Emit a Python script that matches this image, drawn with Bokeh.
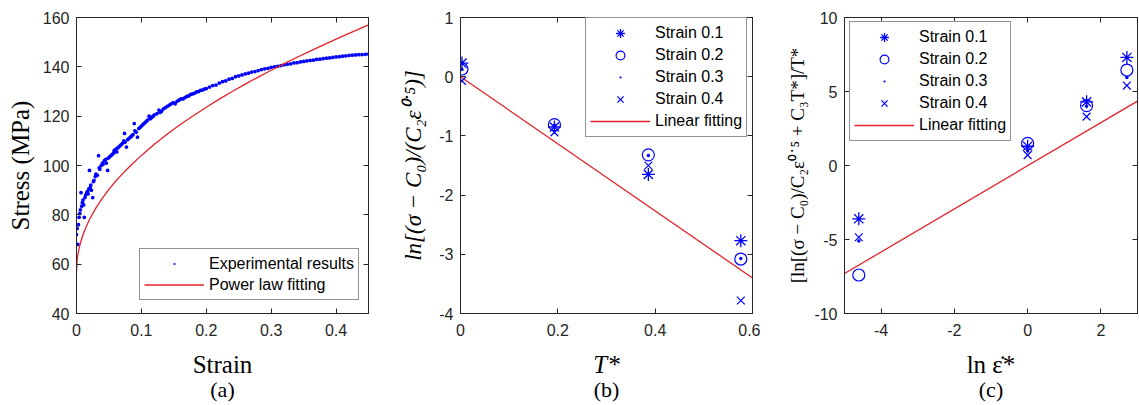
from bokeh.plotting import figure
from bokeh.layouts import row
from bokeh.models import (Range1d, LinearAxis, FixedTicker, Legend, LegendItem,
                          Title, CustomJSTickFormatter, PrintfTickFormatter)
from bokeh.embed import file_html
from bokeh.resources import INLINE

# ---------------- (a) stress-strain curve ----------------
exp_strain = [0.000, 0.001, 0.002, 0.003, 0.004, 0.005, 0.006, 0.007, 0.008, 0.009,
              0.010, 0.011, 0.012, 0.013, 0.014, 0.016, 0.017, 0.018, 0.019, 0.020,
              0.021, 0.022, 0.023, 0.025, 0.026, 0.027, 0.029, 0.030, 0.032, 0.034,
              0.035, 0.036, 0.038, 0.040, 0.041, 0.043, 0.045, 0.046, 0.048, 0.049,
              0.051, 0.053, 0.055, 0.057, 0.058, 0.060, 0.062, 0.063, 0.065, 0.067,
              0.069, 0.071, 0.073, 0.074, 0.075, 0.077, 0.079, 0.081, 0.083, 0.085,
              0.087, 0.089, 0.090, 0.092, 0.094, 0.096, 0.098, 0.100, 0.102, 0.104,
              0.106, 0.108, 0.110, 0.112, 0.114, 0.116, 0.118, 0.120, 0.124, 0.127,
              0.129, 0.131, 0.134, 0.137, 0.140, 0.143, 0.146, 0.149, 0.152, 0.155,
              0.158, 0.161, 0.164, 0.167, 0.170, 0.173, 0.176, 0.179, 0.182, 0.185,
              0.188, 0.191, 0.194, 0.197, 0.200, 0.205, 0.210, 0.215, 0.220, 0.225,
              0.230, 0.235, 0.240, 0.245, 0.250, 0.255, 0.260, 0.265, 0.270, 0.275,
              0.280, 0.285, 0.290, 0.295, 0.300, 0.305, 0.310, 0.315, 0.320, 0.325,
              0.330, 0.335, 0.340, 0.345, 0.350, 0.355, 0.360, 0.365, 0.370, 0.375,
              0.380, 0.385, 0.390, 0.395, 0.400, 0.405, 0.410, 0.415, 0.420, 0.425,
              0.430, 0.435, 0.440, 0.445, 0.450]
exp_stress = [72.0, 74.5, 68.0, 76.0, 79.0, 80.5, 82.0, 89.0, 83.5, 85.0,
              86.0, 84.0, 79.0, 87.0, 88.0, 89.0, 89.5, 88.5, 90.5, 98.0,
              91.0, 92.0, 90.0, 87.0, 93.5, 94.0, 95.5, 96.5, 96.0, 104.0,
              99.0, 98.5, 100.0, 101.0, 100.5, 102.0, 102.5, 101.0, 98.0, 103.0,
              103.5, 104.0, 104.5, 105.0, 106.0, 106.5, 105.5, 107.0, 107.5, 108.0,
              108.5, 109.0, 110.0, 113.0, 109.5, 107.5, 110.5, 111.0, 111.5, 112.0,
              112.5, 117.0, 114.0, 113.5, 111.5, 115.0, 115.5, 116.0, 116.5, 117.0,
              117.5, 118.0, 118.5, 120.0, 119.0, 119.5, 120.0, 120.5, 121.0, 122.5,
              121.5, 122.0, 123.0, 123.5, 124.0, 124.5, 125.0, 125.5, 125.0, 126.0,
              126.5, 127.0, 127.0, 127.5, 128.0, 128.2, 128.8, 129.0, 129.3, 129.8,
              130.0, 130.5, 130.6, 131.0, 131.2, 131.8, 132.4, 132.6, 133.4, 134.0,
              134.3, 135.0, 135.3, 136.0, 136.3, 136.7, 137.1, 137.4, 137.9, 138.1,
              138.5, 138.9, 139.2, 139.4, 139.8, 140.0, 140.2, 140.5, 140.8, 141.0,
              141.2, 141.6, 141.7, 142.0, 142.2, 142.4, 142.6, 142.7, 143.0, 143.1,
              143.3, 143.5, 143.6, 143.8, 144.0, 144.1, 144.3, 144.4, 144.6, 144.7,
              144.8, 144.9, 145.0, 145.1, 145.2]
fit_strain = [0.0, 0.001, 0.002, 0.004, 0.006, 0.008, 0.01, 0.015, 0.02, 0.03, 0.04,
              0.05, 0.06, 0.07, 0.08, 0.10, 0.12, 0.14, 0.16, 0.18, 0.20, 0.22,
              0.24, 0.26, 0.28, 0.30, 0.32, 0.34, 0.36, 0.38, 0.40, 0.42, 0.45]
fit_stress = [57.0, 61.7, 63.7, 66.4, 68.5, 70.3, 71.9, 75.2, 78.1, 82.8, 86.8,
              90.3, 93.5, 96.4, 99.1, 104.1, 108.6, 112.8, 116.6, 120.2, 123.6, 126.9,
              130.0, 133.0, 135.8, 138.6, 141.3, 143.9, 146.4, 148.8, 151.2, 153.6, 157.0]

# ---------------- (b) temperature term ----------------
t_star = [0.003, 0.193, 0.386, 0.576]
b_strain_01 = [0.23, -0.85, -1.65, -2.77]
b_strain_02 = [0.13, -0.81, -1.32, -3.08]
b_strain_03 = [0.12, -0.82, -1.33, -3.07]
b_strain_04 = [-0.07, -0.94, -1.50, -3.78]
b_fit_x = [0.0, 0.6]
b_fit_y = [0.0, -3.4]

# ---------------- (c) strain-rate term ----------------
ln_rate = [-4.61, 0.0, 1.61, 2.71]
c_strain_01 = [-3.6, 1.3, 4.3, 7.3]
c_strain_02 = [-7.4, 1.5, 4.05, 6.45]
c_strain_03 = [-5.1, 1.0, 4.0, 5.95]
c_strain_04 = [-4.85, 0.7, 3.3, 5.4]
c_fit_x = [-5.0, 3.0]
c_fit_y = [-7.3, 4.35]

strain_labels = ["Strain 0.1", "Strain 0.2", "Strain 0.3", "Strain 0.4"]

BLUE = "#0000ff"
RED = "#e4222a"
AX = "#262626"
SANS = "Liberation Sans"
SERIF = "Liberation Serif"
H = 405


def empty_fmt():
    return CustomJSTickFormatter(code="return ''")


def make_panel(width, xr, yr, xticks, yticks, left, right, xlabel, ylabel,
               caption, ylabel_size="25px", ylabel_style="normal",
               xlabel_style="normal", ylabel_standoff=6,
               xfmt=None, yfmt=None):
    p = figure(width=width, height=H, x_range=Range1d(*xr), y_range=Range1d(*yr),
               output_backend="svg", toolbar_location=None,
               min_border_left=left, min_border_right=right,
               min_border_top=17, min_border_bottom=H - 313,
               background_fill_color="white", border_fill_color="white")
    p.grid.visible = False
    p.outline_line_color = AX
    p.outline_line_width = 1
    for ax, ticks, fmt in ((p.xaxis[0], xticks, xfmt), (p.yaxis[0], yticks, yfmt)):
        ax.ticker = FixedTicker(ticks=ticks)
        if fmt is not None:
            ax.formatter = PrintfTickFormatter(format=fmt)
        ax.minor_tick_line_color = None
        ax.major_tick_in = 5
        ax.major_tick_out = 0
        ax.axis_line_color = AX
        ax.major_tick_line_color = AX
        ax.major_label_text_font = SANS
        ax.major_label_text_font_size = "16px"
        ax.major_label_text_color = AX
        ax.axis_label_text_font = SERIF
        ax.axis_label_text_color = "black"
    p.xaxis.major_label_standoff = 10
    p.yaxis.major_label_standoff = 7
    p.xaxis.axis_label = xlabel
    p.xaxis.axis_label_text_font_size = "25px"
    p.xaxis.axis_label_text_font_style = xlabel_style
    p.xaxis.axis_label_standoff = 12
    p.yaxis.axis_label = ylabel
    p.yaxis.axis_label_text_font_size = ylabel_size
    p.yaxis.axis_label_text_font_style = ylabel_style
    p.yaxis.axis_label_standoff = ylabel_standoff

    # tick marks on the opposite sides of the box
    for loc, ticks in (("right", yticks), ("above", xticks)):
        a = LinearAxis(ticker=FixedTicker(ticks=ticks), formatter=empty_fmt(),
                       major_tick_in=5, major_tick_out=0, major_label_standoff=0,
                       minor_tick_line_color=None, axis_line_color=AX,
                       major_tick_line_color=AX, major_label_text_font_size="1px")
        p.add_layout(a, loc)

    p.add_layout(Title(text=caption, align="center", text_font=SERIF,
                       text_font_size="22px", text_font_style="normal",
                       text_color="black", standoff=-12), "below")
    return p


def style_legend(leg, loc, row_h, pad):
    leg.location = loc
    leg.label_text_font = SANS
    leg.label_text_font_size = "16px"
    leg.label_text_color = "black"
    leg.border_line_color = AX
    leg.border_line_width = 1
    leg.background_fill_color = "white"
    leg.background_fill_alpha = 1
    leg.padding = pad
    leg.margin = 0
    leg.spacing = 0
    leg.glyph_width = 60
    leg.glyph_height = row_h
    leg.label_height = row_h
    leg.label_standoff = 5


# ----- panel (a)
pa = make_panel(380, (0, 0.45), (40, 160), [0, 0.1, 0.2, 0.3, 0.4],
                [40, 60, 80, 100, 120, 140, 160], 76, 12,
                "Strain", "Stress (MPa)", "(a)")
ra1 = pa.scatter(exp_strain, exp_stress, marker="dot", size=15, line_color=BLUE,
                 fill_color=BLUE, line_width=1.5)
ra2 = pa.line(fit_strain, fit_stress, line_color=RED, line_width=1.3)
leg_a = Legend(items=[LegendItem(label="Experimental results", renderers=[ra1]),
                      LegendItem(label="Power law fitting", renderers=[ra2])])
style_legend(leg_a, (63, 13), 21, 4)
pa.add_layout(leg_a)


def add_series(p, x, ys):
    rs = []
    rs.append(p.scatter(x, ys[0], marker="asterisk", size=13, line_color=BLUE,
                        line_width=1.3))
    rs.append(p.scatter(x, ys[1], marker="circle", size=12, line_color=BLUE,
                        fill_color=None, line_width=1.2))
    rs.append(p.scatter(x, ys[2], marker="dot", size=14, line_color=BLUE,
                        fill_color=BLUE, line_width=1.2))
    rs.append(p.scatter(x, ys[3], marker="x", size=11, line_color=BLUE,
                        line_width=1.2))
    return rs


# ----- panel (b)
pb = make_panel(380, (0, 0.6), (-4, 1), [0, 0.2, 0.4, 0.6], [-4, -3, -2, -1, 0, 1],
                80, 8, "T*", "ln[(σ − C₀)/(C₂ε⁰˙⁵)]", "(b)",
                ylabel_size="23px", ylabel_style="italic", xlabel_style="italic",
                ylabel_standoff=10, yfmt="%d")
rb_fit = pb.line(b_fit_x, b_fit_y, line_color=RED, line_width=1.3)
rb = add_series(pb, t_star, [b_strain_01, b_strain_02, b_strain_03, b_strain_04])
leg_b = Legend(items=[LegendItem(label=lab, renderers=[r])
                      for lab, r in zip(strain_labels, rb)] +
               [LegendItem(label="Linear fitting", renderers=[rb_fit])])
style_legend(leg_b, (125, 176), 22, 4)
pb.add_layout(leg_b)

# ----- panel (c)
pc = make_panel(379, (-5, 3), (-10, 10), [-4, -2, 0, 2], [-10, -5, 0, 5, 10],
                84, 2, "ln ε̇*", "[ln[(σ − C₀)/C₂ε⁰˙⁵ + C₃T*]/T*", "(c)",
                ylabel_size="19px", ylabel_standoff=3, xfmt="%d", yfmt="%d")
rc_fit = pc.line(c_fit_x, c_fit_y, line_color=RED, line_width=1.3)
rc = add_series(pc, ln_rate, [c_strain_01, c_strain_02, c_strain_03, c_strain_04])
leg_c = Legend(items=[LegendItem(label=lab, renderers=[r])
                      for lab, r in zip(strain_labels, rc)] +
               [LegendItem(label="Linear fitting", renderers=[rc_fit])])
style_legend(leg_c, (5, 172), 22, 4)
pc.add_layout(leg_c)

layout = row(pa, pb, pc, spacing=0)
open("out.html", "w").write(file_html(layout, INLINE))
